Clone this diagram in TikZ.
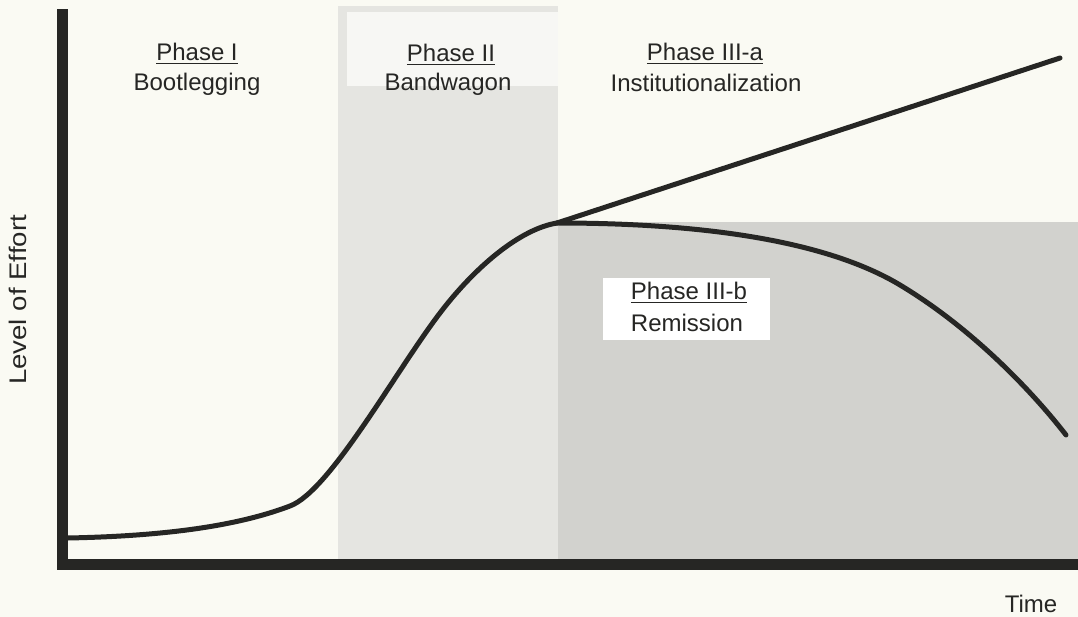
\documentclass[tikz,border=0pt]{standalone}
\usepackage{fontspec}
\setmainfont{Liberation Sans}
\definecolor{bg}{RGB}{250,250,243}
\definecolor{ink}{RGB}{38,38,36}
\definecolor{shadeII}{RGB}{229,229,225}
\definecolor{shadeIII}{RGB}{210,210,206}
\definecolor{boxw}{RGB}{247,247,244}
\newcommand\phul[1]{\leavevmode\setbox0=\hbox{#1}\rlap{\rule[-3pt]{\wd0}{1.4pt}}\box0}
\begin{document}
\begin{tikzpicture}[x=1pt,y=-1pt,
  lbl/.style={font=\fontsize{24}{29}\selectfont, text=ink, inner sep=0pt, anchor=base},
  curve/.style={line width=5pt, draw=ink, line cap=round, line join=round}]
\fill[bg] (0,0) rectangle (1078,617);
\useasboundingbox (0,0) rectangle (1078,617);
% shaded phases
\fill[shadeII] (338,6) rectangle (558,560);
\fill[boxw] (347,12) rectangle (558,86);
\fill[shadeIII] (558,222) rectangle (1078,560);
\fill[white] (603,278) rectangle (770,340);
% axes
\fill[ink] (57,9) rectangle (68,570);
\fill[ink] (57,559) rectangle (1078,570);
% curves
\coordinate (start) at (68,538);
\coordinate (peak) at (557,223);
\coordinate (up) at (1060,58);
\coordinate (down) at (1066,435);
\draw[curve] (start) .. controls (170,536) and (240,525) .. (290,506)
  .. controls (330,491) and (395,372) .. (440,313)
  .. controls (475,267) and (520,229) .. (peak);
\draw[curve] (peak) -- (up);
\draw[curve] (peak) .. controls (700,223) and (825,240) .. (900,285)
  .. controls (975,330) and (1035,395) .. (down);
% labels
\node[lbl] (p1t) at (197,61) {\phul{Phase I}};
\node[lbl] (p1s) at (197,91) {Bootlegging};
\node[lbl] (p2t) at (451,62) {\phul{Phase II}};
\node[lbl] (p2s) at (448,91) {Bandwagon};
\node[lbl] (p3at) at (705,61) {\phul{Phase III-a}};
\node[lbl] (p3as) at (706,92) {Institutionalization};
\node[lbl] (p3bt) at (689,300) {\phul{Phase III-b}};
\node[lbl] (p3bs) at (687,331) {Remission};
\node[lbl] (time) at (1031,612) {Time};
\node[lbl, rotate=90] (yl) at (27,300) {\scalebox{1.15}[1]{Level of Effort}};
\end{tikzpicture}
\end{document}
